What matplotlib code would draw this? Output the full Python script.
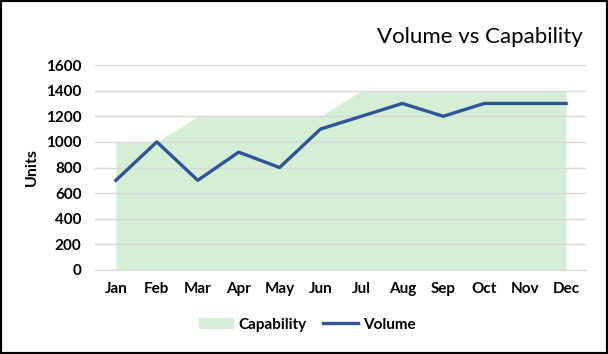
import matplotlib.pyplot as plt
from matplotlib.patches import Rectangle

months = ['Jan', 'Feb', 'Mar', 'Apr', 'May', 'Jun', 'Jul', 'Aug', 'Sep', 'Oct', 'Nov', 'Dec']
capability = [1000, 1000, 1200, 1200, 1200, 1200, 1400, 1400, 1400, 1400, 1400, 1400]
volume = [700, 1000, 700, 920, 800, 1100, 1200, 1300, 1200, 1300, 1300, 1300]
yticks = [0, 200, 400, 600, 800, 1000, 1200, 1400, 1600]

plt.rcParams['font.family'] = ['Lato', 'DejaVu Sans']

fig = plt.figure(figsize=(6.08, 3.54), dpi=100)
ax = fig.add_axes([0.157, 0.2373, 0.8076, 0.579])

x = range(len(months))
ax.fill_between(x, capability, 0, color='#d5efd6', linewidth=0, label='Capability', zorder=1)
ax.plot(x, volume, color='#2f5597', linewidth=2.4, label='Volume', zorder=3)

ax.set_xlim(-0.5, 11.5)
ax.set_ylim(0, 1600)
ax.grid(axis='y', color='#d9d9d9', linewidth=1, zorder=2)
ax.set_axisbelow(False)
for s in ['top', 'right', 'left']:
    ax.spines[s].set_visible(False)
ax.spines['bottom'].set_color('#d9d9d9')
ax.xaxis.set_tick_params(length=0, pad=9)
ax.yaxis.set_tick_params(length=0, pad=10)
ax.set_yticks(yticks)
ax.set_yticklabels([str(v) for v in yticks], fontsize=11, fontweight='bold')
ax.set_xticks(list(x))
ax.set_xticklabels(months, fontsize=11, fontweight='bold')
ax.set_ylabel('Units', fontsize=11.5, fontweight='bold', labelpad=5)

fig.text(0.958, 0.895, 'Volume vs Capability', ha='right', va='center', fontsize=16)

fig.legend(*ax.get_legend_handles_labels(), loc='center', bbox_to_anchor=(0.505, 0.083),
           ncol=2, frameon=False, prop={'weight': 'bold', 'size': 11}, handlelength=2.3,
           handletextpad=0.3, columnspacing=1.1)

fig.patches.append(Rectangle((0, 0), 1, 1, transform=fig.transFigure, fill=False,
                             edgecolor='black', linewidth=3))
fig.savefig('out.png', dpi=100)
